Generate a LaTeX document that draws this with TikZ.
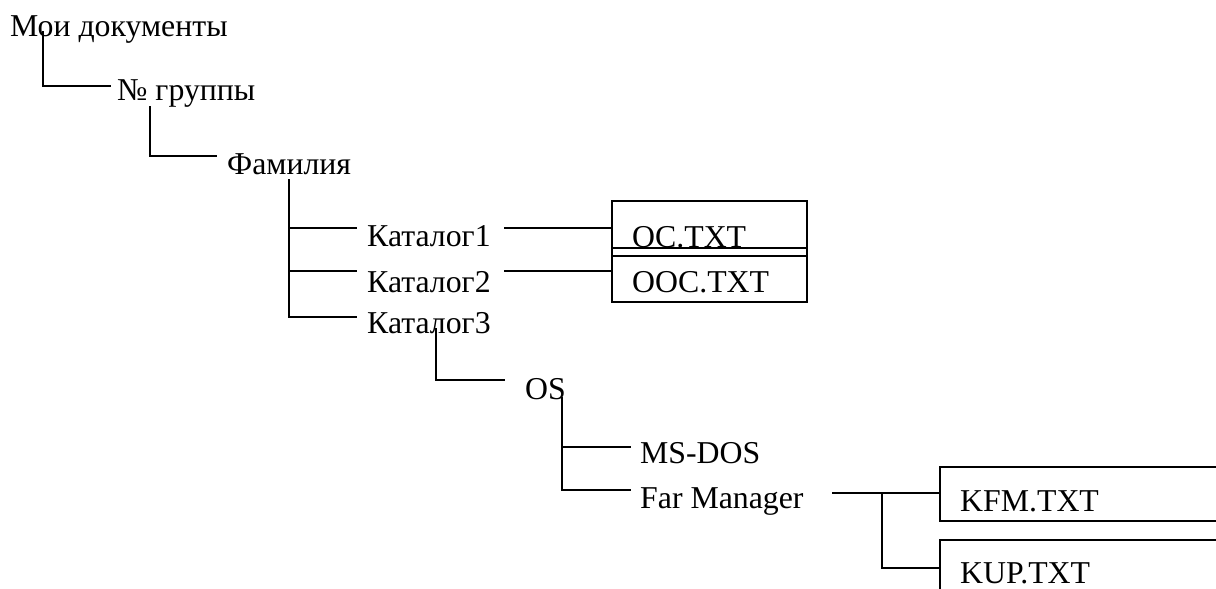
\documentclass[tikz,border=0pt]{standalone}
\usepackage{fontspec}
\setmainfont{Liberation Serif}
\begin{document}
\begin{tikzpicture}[x=1pt,y=-1pt,
  lbl/.style={anchor=base west,inner sep=0pt,font=\fontsize{31.8}{36}\selectfont},
  conn/.style={line width=1.4pt,line cap=rect},
  filebox/.style={line width=1.4pt}]
\useasboundingbox (0,0) rectangle (1216,589);
\clip (0,0) rectangle (1216,589);
% text nodes
\node[lbl] (docs) at (10,36) {Мои документы};
\node[lbl] (grp) at (117,100) {№ группы};
\node[lbl] (fam) at (227,174) {Фамилия};
\node[lbl] (k1) at (367,246) {Каталог1};
\node[lbl] (k2) at (367,292) {Каталог2};
\node[lbl] (k3) at (367,333) {Каталог3};
\node[lbl] (os) at (525,399) {OS};
\node[lbl] (msdos) at (640,463) {MS-DOS};
\node[lbl] (far) at (640,508) {Far Manager};
% boxes
\draw[filebox] (612,201) rectangle (807,256);
\draw[filebox] (612,248) rectangle (807,302);
\node[lbl] (oc) at (632,247) {OC.TXT};
\node[lbl] (ooc) at (632,292) {OOC.TXT};
\draw[filebox] (1230,467) -- (940,467) -- (940,521) -- (1230,521);
\draw[filebox] (1230,540) -- (940,540) -- (940,600);
\node[lbl] (kfm) at (960,511) {KFM.TXT};
\node[lbl] (kup) at (960,583) {KUP.TXT};
% coordinates
\coordinate (a1) at (43,32);  \coordinate (a2) at (43,86);  \coordinate (a3) at (110,86);
\coordinate (b1) at (150,107); \coordinate (b2) at (150,156); \coordinate (b3) at (216,156);
\coordinate (c1) at (289,180); \coordinate (c2) at (289,317);
\coordinate (c1e) at (356,228); \coordinate (c1s) at (289,228);
\coordinate (c2e) at (356,271); \coordinate (c2s) at (289,271);
\coordinate (c3e) at (356,317);
\coordinate (d1s) at (505,228); \coordinate (d1e) at (612,228);
\coordinate (d2s) at (505,271); \coordinate (d2e) at (612,271);
\coordinate (e1) at (436,329); \coordinate (e2) at (436,380); \coordinate (e3) at (504,380);
\coordinate (f1) at (562,398); \coordinate (f2) at (562,490);
\coordinate (fms) at (562,447); \coordinate (fmse) at (630,447); \coordinate (ffe) at (630,490);
\coordinate (g1) at (833,493); \coordinate (g2) at (940,493);
\coordinate (h1) at (882,493); \coordinate (h2) at (882,568); \coordinate (h3) at (940,568);
% connectors
\draw[conn] (a1) -- (a2) -- (a3);
\draw[conn] (b1) -- (b2) -- (b3);
\draw[conn] (c1) -- (c2) -- (c3e);
\draw[conn] (c1s) -- (c1e);
\draw[conn] (c2s) -- (c2e);
\draw[conn] (d1s) -- (d1e);
\draw[conn] (d2s) -- (d2e);
\draw[conn] (e1) -- (e2) -- (e3);
\draw[conn] (f1) -- (f2) -- (ffe);
\draw[conn] (fms) -- (fmse);
\draw[conn] (g1) -- (g2);
\draw[conn] (h1) -- (h2) -- (h3);
\end{tikzpicture}
\end{document}
